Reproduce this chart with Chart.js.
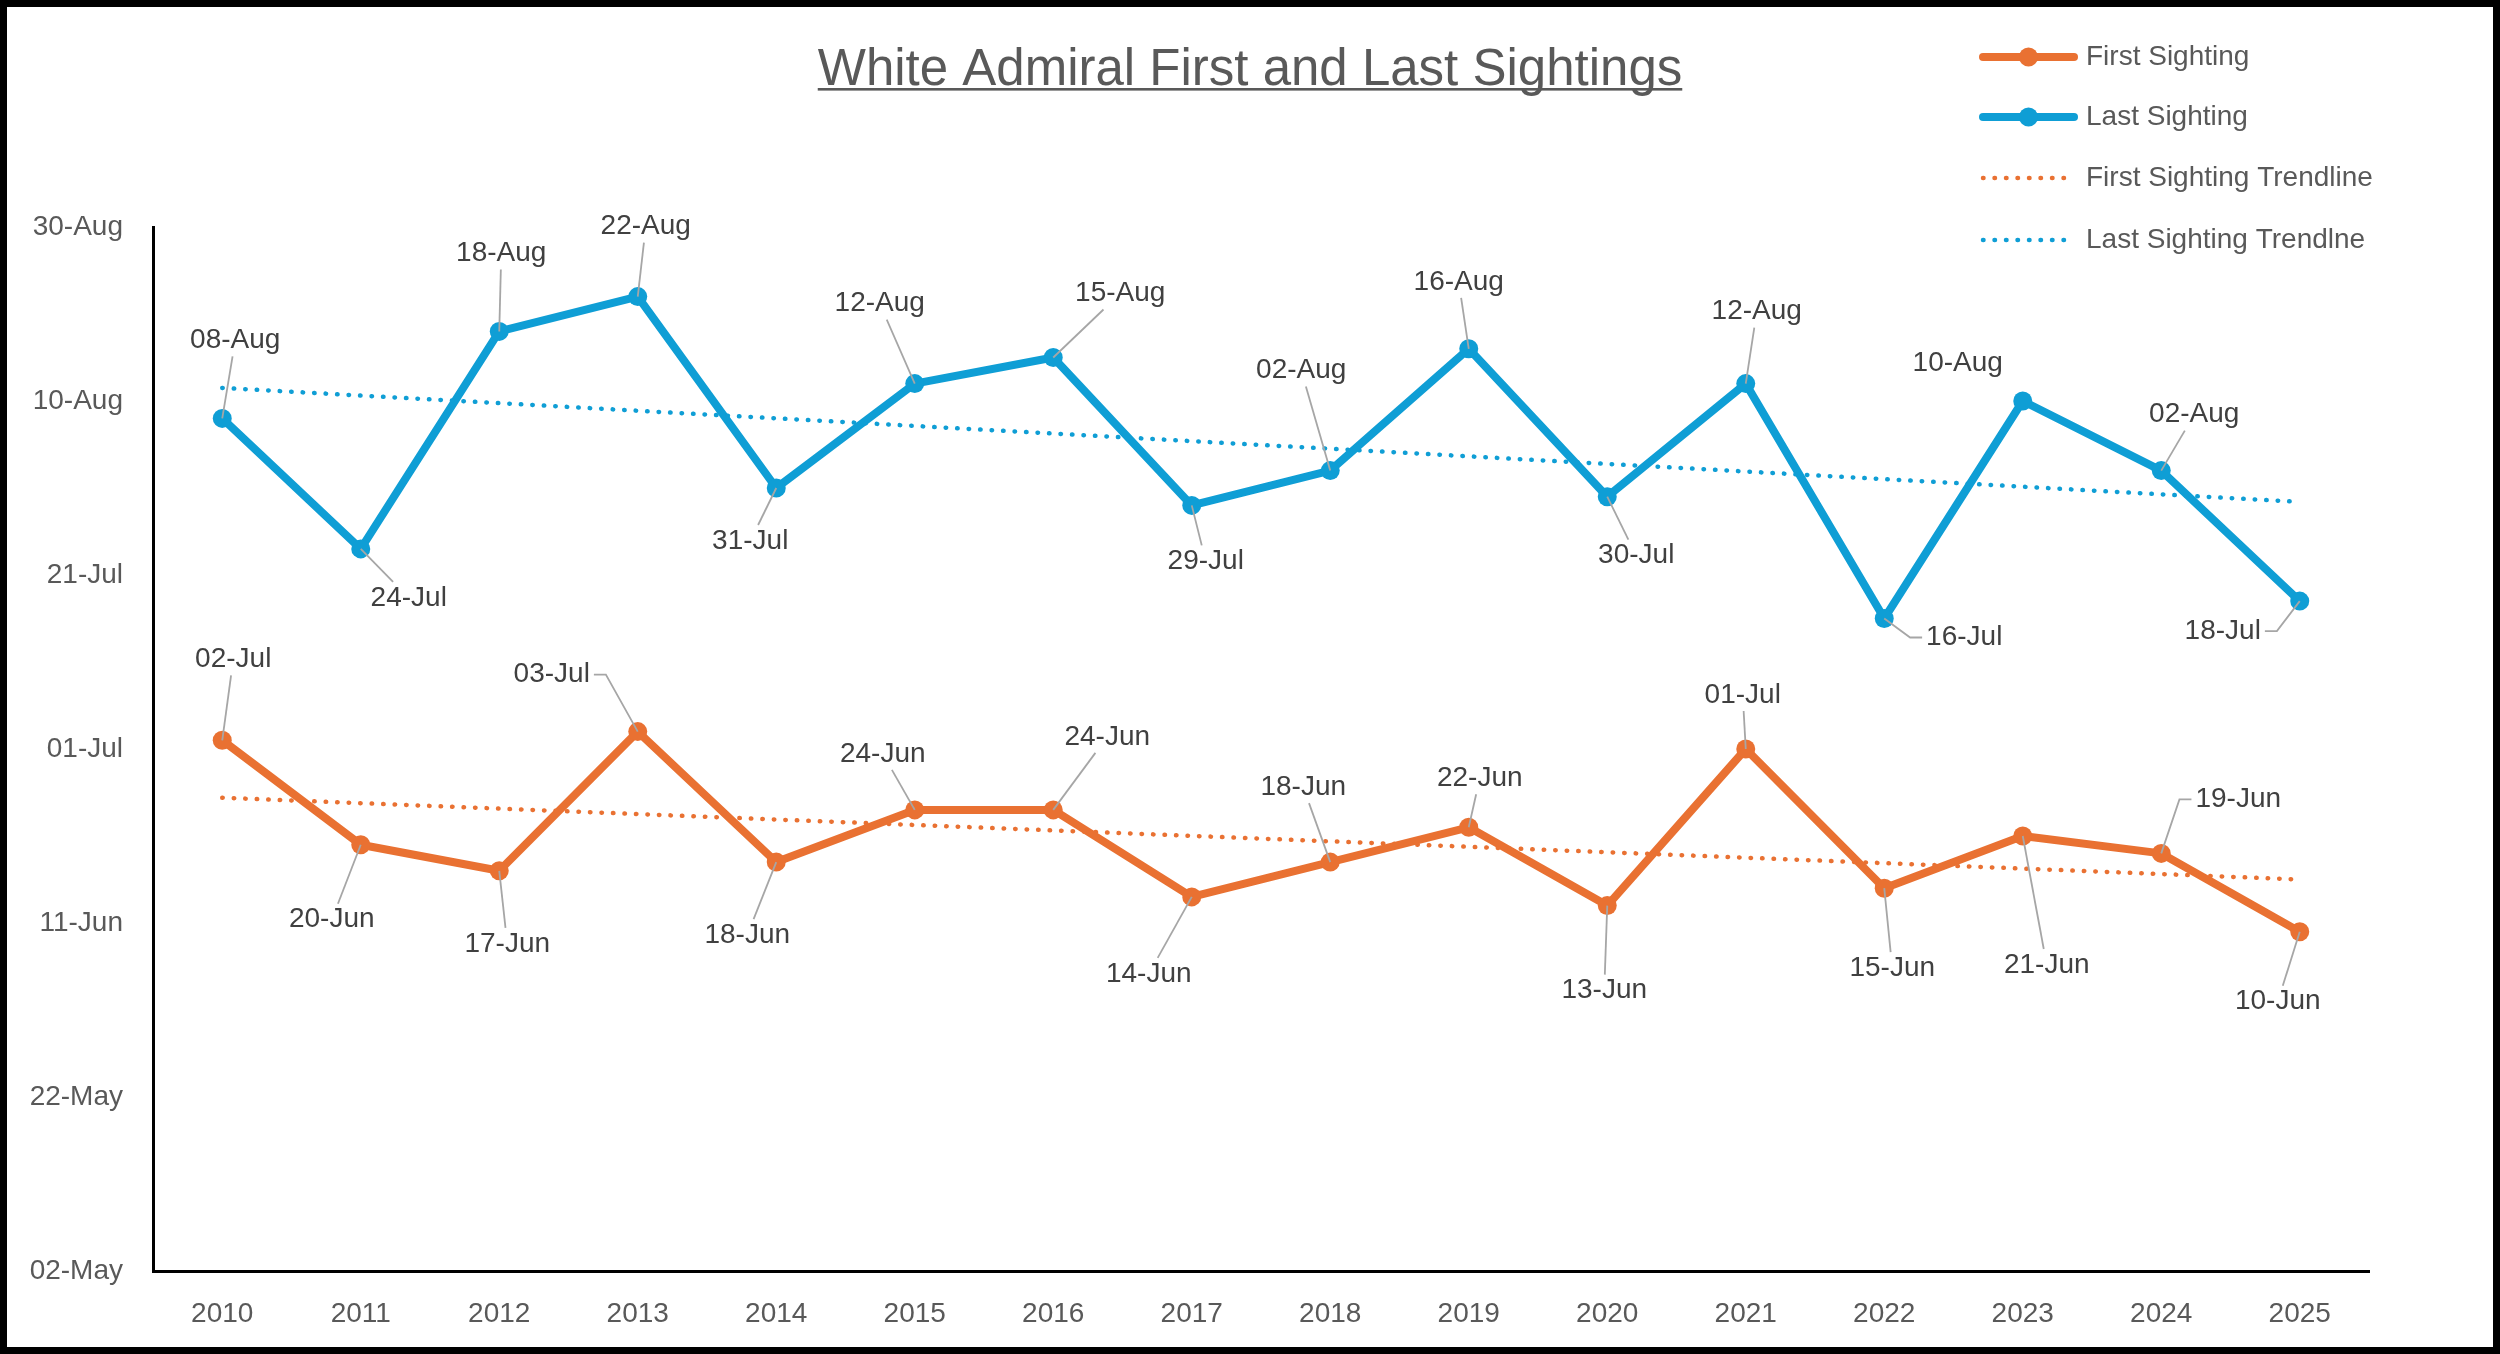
<!DOCTYPE html>
<html>
<head>
<meta charset="utf-8">
<title>White Admiral First and Last Sightings</title>
<script src="https://cdn.jsdelivr.net/npm/chart.js@4.4.1/dist/chart.umd.min.js"></script>
<style>
  html, body { margin: 0; padding: 0; background: #fff; }
  .chart-container { width: 2500px; height: 1354px; box-sizing: border-box; border: 7px solid #000; background: #fff; }
  canvas { display: block; }
</style>
</head>
<body>
<div class="chart-container"><canvas id="myChart"></canvas></div>
<script>
const years = ['2010', '2011', '2012', '2013', '2014', '2015', '2016', '2017',
  '2018', '2019', '2020', '2021', '2022', '2023', '2024', '2025'];

const firstSighting = ['02-Jul', '20-Jun', '17-Jun', '03-Jul', '18-Jun', '24-Jun', '24-Jun', '14-Jun',
  '18-Jun', '22-Jun', '13-Jun', '01-Jul', '15-Jun', '21-Jun', '19-Jun', '10-Jun'];

const lastSighting = ['08-Aug', '24-Jul', '18-Aug', '22-Aug', '31-Jul', '12-Aug', '15-Aug', '29-Jul',
  '02-Aug', '16-Aug', '30-Jul', '12-Aug', '16-Jul', '10-Aug', '02-Aug', '18-Jul'];

// trendline ends at 2010 and 2025, as day of year
const firstTrendEnds = [176.4, 167.0];
const lastTrendEnds = [223.5, 210.4];

const yTicks = ['02-May', '22-May', '11-Jun', '01-Jul', '21-Jul', '10-Aug', '30-Aug'];

const legendLabels = ['First Sighting', 'Last Sighting', 'First Sighting Trendline', 'Last Sighting Trendlne'];

// where each data label sits relative to its point (px)
const firstLabelOffsets = [[11, -81], [-29, 75], [8, 73], [-86, -57], [-29, 73], [-32, -56], [54, -73], [-43, 77],
  [-27, -75], [11, -49], [-3, 85], [-3, -54], [8, 80], [24, 129], [77, -54], [-22, 70]];
const lastLabelOffsets = [[13, -78], [48, 49], [2, -78], [8, -70], [-26, 53], [-35, -80], [67, -64], [14, 56],
  [-29, -100], [-10, -67], [29, 59], [11, -72], [80, 19], [-65, -38], [33, -56], [-77, 30]];

const ORANGE = '#E97132';
const BLUE = '#0F9ED5';
const FONT = "'Liberation Sans', Arial, sans-serif";

const MONTHS = ['Jan', 'Feb', 'Mar', 'Apr', 'May', 'Jun', 'Jul', 'Aug', 'Sep', 'Oct', 'Nov', 'Dec'];
const MONTH_DAYS = [31, 28, 31, 30, 31, 30, 31, 31, 30, 31, 30, 31];

function toDay(str) {
  const [d, m] = str.split('-');
  let day = Number(d);
  for (let i = 0; i < MONTHS.indexOf(m); i++) day += MONTH_DAYS[i];
  return day;
}

function fromDay(v) {
  let day = Math.round(v);
  let m = 0;
  while (day > MONTH_DAYS[m]) { day -= MONTH_DAYS[m]; m++; }
  return String(day).padStart(2, '0') + '-' + MONTHS[m];
}

function trendData(ends) {
  return years.map((y, i) => (i === 0 ? ends[0] : i === years.length - 1 ? ends[1] : null));
}

// leader line from the label box to its point, Excel style
function drawLeader(ctx, px, py, cx, cy, w, h) {
  const hw = w / 2 + 4, hh = h / 2 + 2;
  const dx = px - cx, dy = py - cy;
  const hgap = Math.max(Math.abs(dx) - hw, 0);
  const vgap = Math.max(Math.abs(dy) - hh, 0);
  if (Math.hypot(hgap, vgap) < 28) return;
  ctx.beginPath();
  if (Math.abs(dx) > 1.1 * Math.abs(dy)) {
    const sx = cx + Math.sign(dx) * hw;
    ctx.moveTo(sx, cy);
    ctx.lineTo(sx + Math.sign(dx) * 12, cy);
    ctx.lineTo(px, py);
  } else {
    const t = hh / Math.abs(dy);
    ctx.moveTo(cx + dx * t, cy + dy * t);
    ctx.lineTo(px, py);
  }
  ctx.stroke();
}

const labelsPlugin = {
  id: 'pointLabels',
  afterDatasetsDraw(chart) {
    const ctx = chart.ctx;
    const sets = [[0, firstSighting, firstLabelOffsets], [1, lastSighting, lastLabelOffsets]];
    ctx.save();
    ctx.font = '28px ' + FONT;
    ctx.textAlign = 'center';
    ctx.textBaseline = 'middle';
    ctx.strokeStyle = '#A6A6A6';
    ctx.lineWidth = 1.8;
    sets.forEach(([idx, texts, offsets]) => {
      const meta = chart.getDatasetMeta(idx);
      meta.data.forEach((pt, i) => {
        const cx = pt.x + offsets[i][0];
        const cy = pt.y + offsets[i][1];
        const w = ctx.measureText(texts[i]).width;
        drawLeader(ctx, pt.x, pt.y, cx, cy, w, 28);
        ctx.fillStyle = '#404040';
        ctx.fillText(texts[i], cx, cy);
      });
    });
    ctx.restore();
  }
};

const titleLegendPlugin = {
  id: 'titleLegend',
  afterDraw(chart) {
    const ctx = chart.ctx;
    ctx.save();
    // title
    const title = 'White Admiral First and Last Sightings';
    ctx.font = '51px ' + FONT;
    ctx.fillStyle = '#595959';
    ctx.textAlign = 'center';
    ctx.textBaseline = 'alphabetic';
    const cx = chart.width / 2;
    ctx.fillText(title, cx, 78);
    const tw = ctx.measureText(title).width;
    ctx.fillRect(cx - tw / 2, 81, tw, 2.6);

    // legend
    const rows = [50, 110, 171, 233];
    const x0 = 1976, x1 = 2067;
    chart.data.datasets.forEach((ds, i) => {
      const y = rows[i];
      ctx.beginPath();
      ctx.strokeStyle = ds.borderColor;
      ctx.lineWidth = ds.borderWidth;
      ctx.lineCap = 'round';
      ctx.setLineDash(ds.borderDash || []);
      ctx.moveTo(x0, y);
      ctx.lineTo(x1, y);
      ctx.stroke();
      ctx.setLineDash([]);
      if (ds.pointRadius > 0) {
        ctx.beginPath();
        ctx.fillStyle = ds.borderColor;
        ctx.arc((x0 + x1) / 2, y, ds.pointRadius, 0, Math.PI * 2);
        ctx.fill();
      }
      ctx.font = '28px ' + FONT;
      ctx.fillStyle = '#595959';
      ctx.textAlign = 'left';
      ctx.textBaseline = 'middle';
      ctx.fillText(legendLabels[i], 2079, y);
    });
    ctx.restore();
  }
};

Chart.defaults.font.family = FONT;
Chart.defaults.font.size = 28;
Chart.defaults.color = '#595959';

const ctx = document.getElementById('myChart');
new Chart(ctx, {
  type: 'line',
  data: {
    labels: years,
    datasets: [{
      label: legendLabels[0],
      data: firstSighting.map(toDay),
      borderColor: ORANGE,
      backgroundColor: ORANGE,
      borderWidth: 8,
      borderJoinStyle: 'round',
      borderCapStyle: 'round',
      pointRadius: 9.5,
      pointBorderWidth: 0,
      tension: 0,
      order: 1,
    }, {
      label: legendLabels[1],
      data: lastSighting.map(toDay),
      borderColor: BLUE,
      backgroundColor: BLUE,
      borderWidth: 8,
      borderJoinStyle: 'round',
      borderCapStyle: 'round',
      pointRadius: 9.5,
      pointBorderWidth: 0,
      tension: 0,
      order: 1,
    }, {
      label: legendLabels[2],
      data: trendData(firstTrendEnds),
      borderColor: ORANGE,
      borderWidth: 4.5,
      borderDash: [0.5, 11],
      borderCapStyle: 'round',
      pointRadius: 0,
      spanGaps: true,
      order: 0,
    }, {
      label: legendLabels[3],
      data: trendData(lastTrendEnds),
      borderColor: BLUE,
      borderWidth: 4.5,
      borderDash: [0.5, 11],
      borderCapStyle: 'round',
      pointRadius: 0,
      spanGaps: true,
      order: 0,
    }],
  },
  options: {
    responsive: true,
    maintainAspectRatio: false,
    animation: false,
    events: [],
    layout: { padding: { top: 220, right: 124, bottom: 0, left: 0 } },
    plugins: {
      legend: { display: false },
      title: { display: false },
      tooltip: { enabled: false },
    },
    scales: {
      x: {
        type: 'category',
        offset: true,
        grid: { drawOnChartArea: false, drawTicks: false },
        border: { display: true, color: '#000', width: 3 },
        ticks: { padding: 26, color: '#595959', maxRotation: 0, autoSkip: false },
        afterFit: scale => { scale.height = 76; },
      },
      y: {
        min: toDay(yTicks[0]),
        max: toDay(yTicks[yTicks.length - 1]),
        grid: { drawOnChartArea: false, drawTicks: false },
        border: { display: true, color: '#000', width: 3 },
        ticks: {
          padding: 30,
          color: '#595959',
          callback: value => fromDay(value),
        },
        afterBuildTicks: scale => { scale.ticks = yTicks.map(t => ({ value: toDay(t) })); },
        afterFit: scale => { scale.width = 146; },
      },
    },
  },
  plugins: [labelsPlugin, titleLegendPlugin],
});
</script>
</body>
</html>
